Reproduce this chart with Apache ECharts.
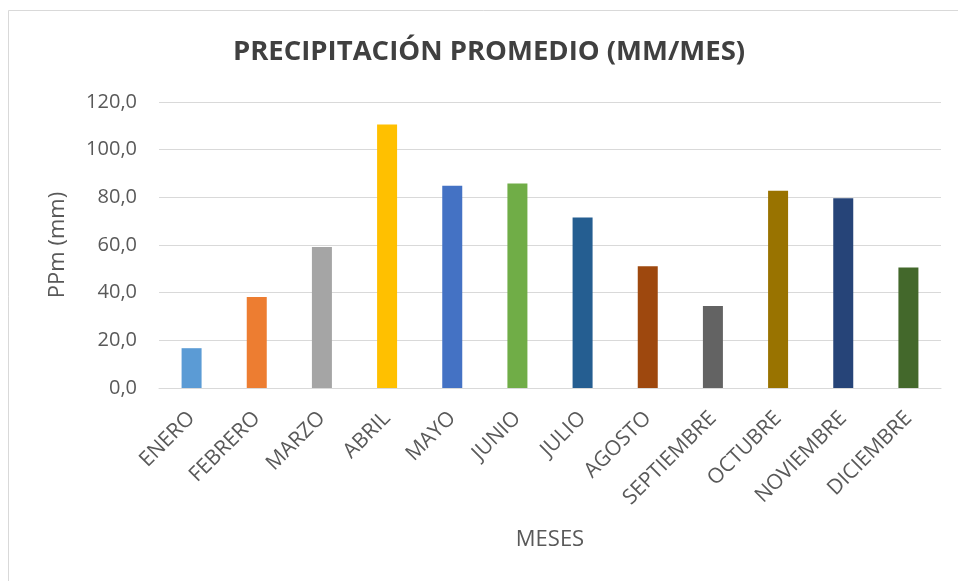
<!DOCTYPE html>
<html>
<head>
<meta charset="utf-8">
<title>Precipitación promedio</title>
<script src="https://cdn.jsdelivr.net/npm/echarts@6/dist/echarts.min.js"></script>
<style>
  html, body { margin: 0; padding: 0; background: #ffffff; }
  #chart { width: 958px; height: 581px; }
</style>
</head>
<body>
<div id="chart"></div>
<script>
// Monthly average precipitation (mm/month)
const meses = ['ENERO', 'FEBRERO', 'MARZO', 'ABRIL', 'MAYO', 'JUNIO', 'JULIO',
               'AGOSTO', 'SEPTIEMBRE', 'OCTUBRE', 'NOVIEMBRE', 'DICIEMBRE'];
const precipitacion = [16.7, 38.2, 59.2, 110.6, 84.9, 85.8, 71.5, 51.1, 34.4, 82.8, 79.6, 50.6];
const coloresMes = ['#5B9BD5', '#ED7D31', '#A5A5A5', '#FFC000', '#4472C4', '#70AD47',
                    '#255E91', '#9E480E', '#636363', '#997300', '#264478', '#43682B'];
const yTicks = [0, 20, 40, 60, 80, 100, 120];

const labelFont = "'Open Sans', 'Noto Sans', sans-serif";

const chart = echarts.init(document.getElementById('chart'), null, { renderer: 'canvas' });

chart.setOption({
  animation: false,
  backgroundColor: '#ffffff',
  title: {
    text: 'PRECIPITACIÓN PROMEDIO (MM/MES)',
    left: 484,
    top: 33,
    textAlign: 'center',
    textStyle: {
      fontFamily: labelFont,
      fontSize: 27.5,
      fontWeight: 'bold',
      color: '#404040'
    }
  },
  graphic: [{
    type: 'rect',
    shape: { x: 8.5, y: 10.5, width: 1000, height: 1000 },
    style: { fill: 'none', stroke: '#d9d9d9', lineWidth: 1 },
    silent: true
  }],
  grid: { left: 159, right: 17, top: 102, bottom: 193, containLabel: false },
  xAxis: {
    type: 'category',
    data: meses,
    name: 'MESES',
    nameLocation: 'middle',
    nameGap: 141,
    nameTextStyle: { fontFamily: labelFont, fontSize: 22, color: '#595959' },
    axisLine: { lineStyle: { color: '#d9d9d9', width: 1 } },
    axisTick: { show: false },
    axisLabel: {
      rotate: 45,
      margin: 27,
      interval: 0,
      fontFamily: labelFont,
      fontSize: 21,
      color: '#595959'
    }
  },
  yAxis: {
    type: 'value',
    min: yTicks[0],
    max: yTicks[yTicks.length - 1],
    interval: yTicks[1] - yTicks[0],
    name: 'PPm (mm)',
    nameLocation: 'middle',
    nameRotate: 90,
    nameGap: 90,
    nameTextStyle: { fontFamily: labelFont, fontSize: 22, color: '#595959' },
    axisLine: { show: false },
    axisTick: { show: false },
    splitLine: { lineStyle: { color: '#d9d9d9', width: 1 } },
    axisLabel: {
      margin: 22,
      fontFamily: labelFont,
      fontSize: 20,
      color: '#595959',
      formatter: v => v.toFixed(1).replace('.', ',')
    }
  },
  series: [{
    type: 'bar',
    barWidth: 20,
    data: precipitacion.map((v, i) => ({ value: v, itemStyle: { color: coloresMes[i] } }))
  }]
});
</script>
</body>
</html>
